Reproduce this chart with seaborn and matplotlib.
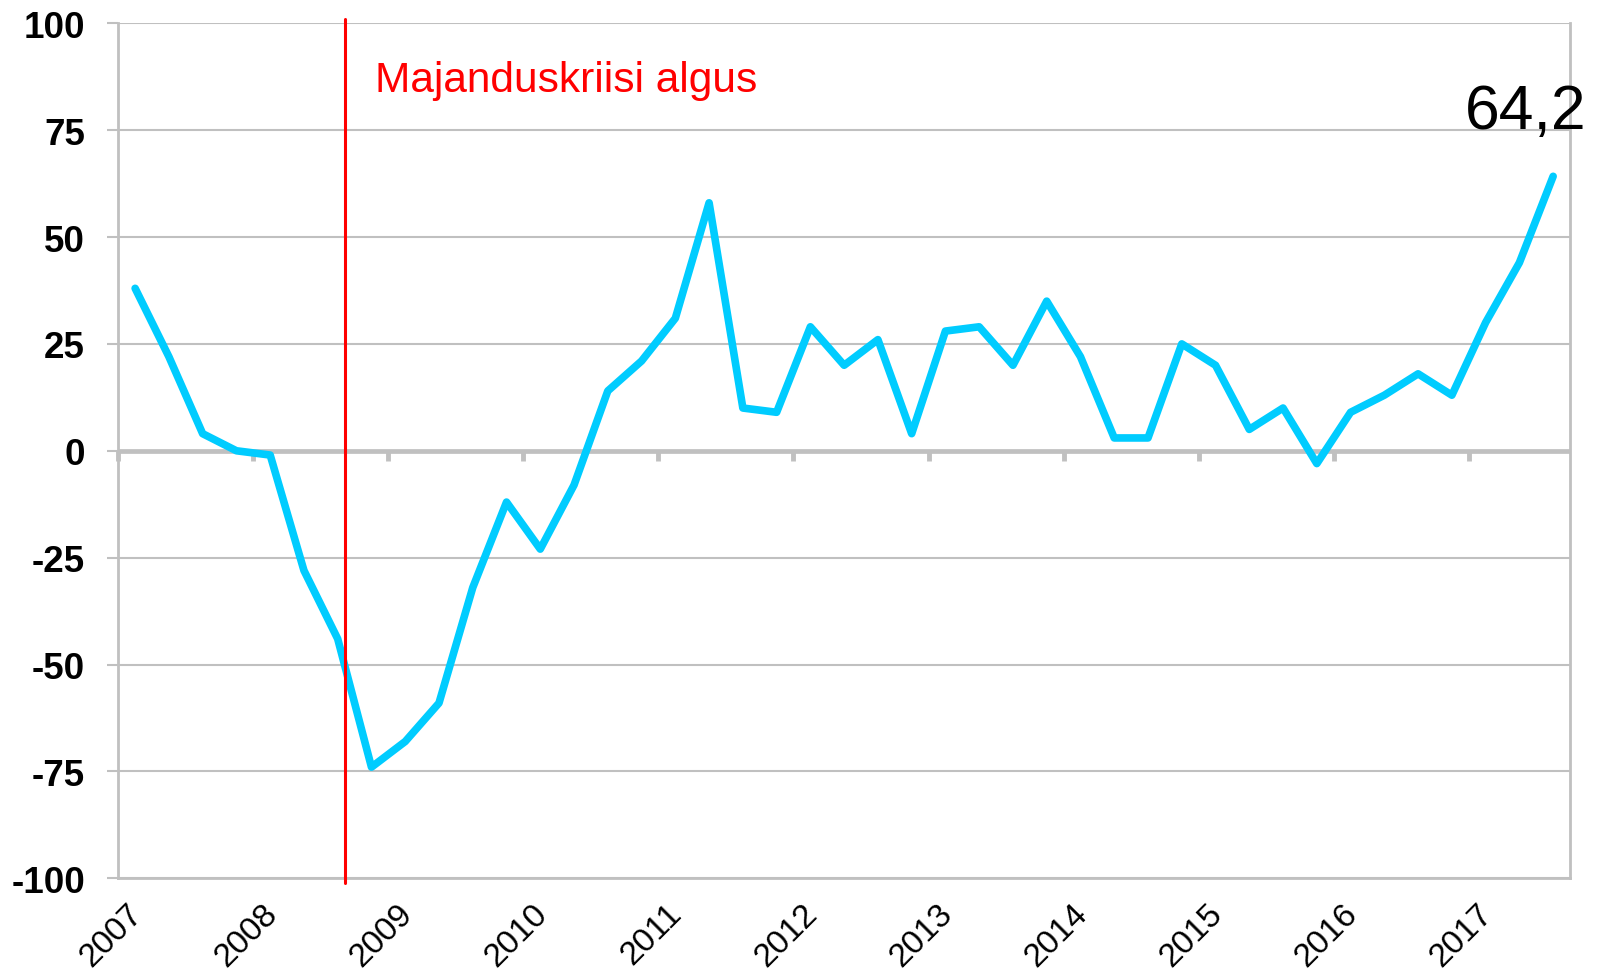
import matplotlib
matplotlib.use("Agg")
import matplotlib.pyplot as plt
import matplotlib.transforms as mtransforms
import numpy as np
import pandas as pd
import seaborn as sns

# ---- data (quarterly, 2007 Q1 .. 2017 Q3) ----
years = [2007, 2008, 2009, 2010, 2011, 2012, 2013, 2014, 2015, 2016, 2017]
values = [38, 22, 4, 0, -1, -28, -44,
          -74, -68, -59, -32,
          -12, -23, -8, 14,
          21, 31, 58, 10,
          9, 29, 20, 26,
          4, 28, 29, 20,
          35, 22, 3, 3,
          25, 20, 5, 10,
          -3, 9, 13, 18,
          13, 30, 44, 64.2]
last_label = "64,2"
crisis_label = "Majanduskriisi algus"
crisis_pos = 6.21          # category position of the crisis marker (Sept 2008)
y_ticks = [-100, -75, -50, -25, 0, 25, 50, 75, 100]

df = pd.DataFrame({"q": np.arange(len(values)), "value": values})

sns.set_style("white")
plt.rcParams["font.family"] = ["Liberation Sans", "DejaVu Sans"]
plt.rcParams["text.color"] = "black"
plt.rcParams["xtick.color"] = "black"
plt.rcParams["ytick.color"] = "black"

fig = plt.figure(figsize=(15.98, 9.70), dpi=100)
ax = fig.add_axes([0.0740, 0.0935, 0.9085, 0.8815])

GRID = "#c0c0c0"

# gridlines
ax.set_ylim(-100, 100)
ax.set_xlim(-0.5, len(values) - 0.5)
ax.set_yticks(y_ticks)
ax.set_yticklabels([str(v) for v in y_ticks], fontsize=26.5, fontweight="bold",
                   color="black")
ax.yaxis.grid(True, color=GRID, linewidth=1.5)
ax.set_axisbelow(True)
ax.tick_params(axis="y", length=8, width=1.5, color=GRID, labelcolor="black",
               pad=16, left=True)

# zero axis line (thick)
ax.axhline(0, color=GRID, linewidth=3.4, zorder=1)

# spines
for s in ["left", "right", "bottom", "top"]:
    ax.spines[s].set_color(GRID)
    ax.spines[s].set_linewidth(2)
ax.spines["top"].set_visible(False)

# year ticks at category boundaries; labels at bottom, tick marks on zero line
year_pos = [-0.5 + 4 * i for i in range(len(years))]
ax.set_xticks(year_pos)
ax.set_xticklabels([str(y) for y in years], fontsize=24, rotation=45,
                   ha="center", color="black")
ax.tick_params(axis="x", length=0, pad=14, labelcolor="black")
offset = mtransforms.ScaledTranslation(-7 / 100, 0, fig.dpi_scale_trans)
for lab in ax.get_xticklabels():
    lab.set_transform(lab.get_transform() + offset)

sec = ax.secondary_xaxis(0.5)
sec.set_xticks(year_pos)
sec.set_xticklabels([])
sec.xaxis.set_ticks_position("bottom")
sec.tick_params(axis="x", which="both", bottom=True, top=False,
                direction="out", length=7, width=3.5, color=GRID)
for s in sec.spines.values():
    s.set_visible(False)

# data line
sns.lineplot(data=df, x="q", y="value", ax=ax, color="#00ccff",
             linewidth=5.5, zorder=3, solid_capstyle="round",
             solid_joinstyle="round")
ax.set_xlabel("")
ax.set_ylabel("")

# crisis marker
ax.plot([crisis_pos, crisis_pos], [-101, 101], color="#ff0000", linewidth=2.2,
        zorder=4, clip_on=False)
ax.text(crisis_pos + 0.9, 84.1, crisis_label, color="#ff0000", fontsize=30.5,
        ha="left", va="baseline")

# last value label
ax.text(len(values) - 0.5 + 0.5, 75.6, last_label, color="black", fontsize=45,
        ha="right", va="baseline", clip_on=False)

fig.savefig("out.png", dpi=100)
